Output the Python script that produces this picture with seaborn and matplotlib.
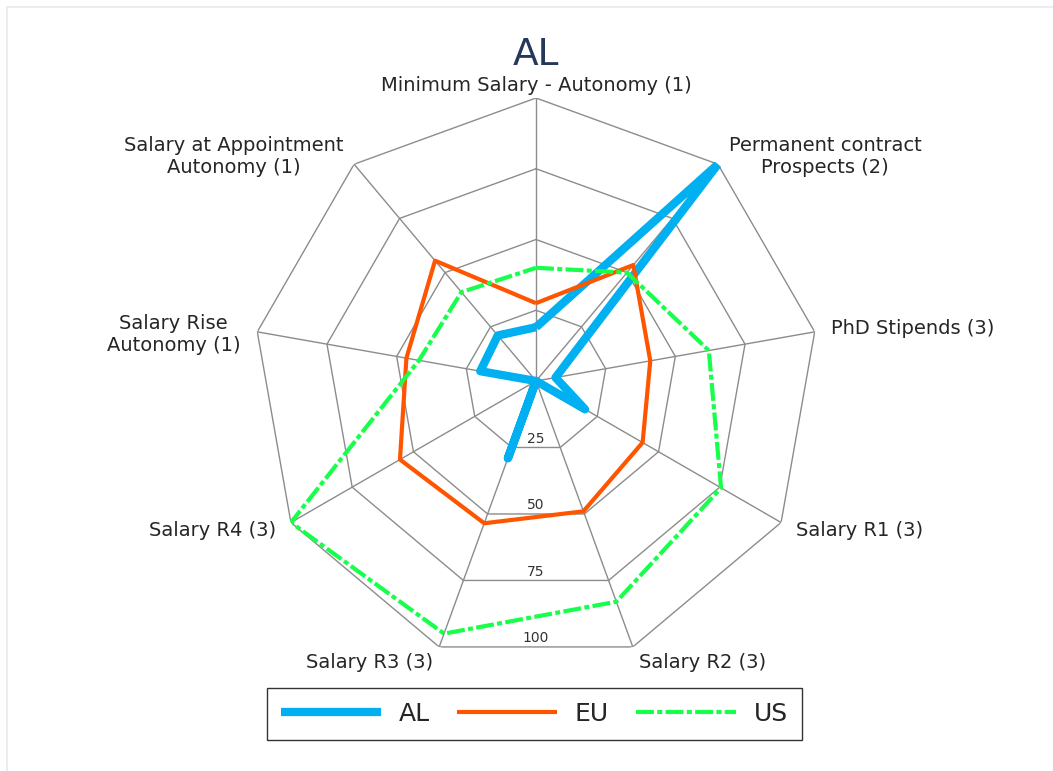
import numpy as np
import matplotlib
matplotlib.use("Agg")
import matplotlib.pyplot as plt
from matplotlib.patches import Rectangle
import seaborn as sns

# axes of the radar, clockwise from the top
categories = [
    "Minimum Salary - Autonomy (1)",
    "Permanent contract\nProspects (2)",
    "PhD Stipends (3)",
    "Salary R1 (3)",
    "Salary R2 (3)",
    "Salary R3 (3)",
    "Salary R4 (3)",
    "Salary Rise\nAutonomy (1)",
    "Salary at Appointment\nAutonomy (1)",
]
al_values = [19, 100, 7, 20, 0, 29, 0, 20, 21]
eu_values = [27.5, 53.5, 41, 43.5, 49, 53.5, 55.5, 46.5, 55.5]
us_values = [40, 50, 62, 75.5, 83, 95, 100, 42, 41]
ring_levels = [25, 50, 75, 100]
series_names = ["AL", "EU", "US"]

sns.set_theme(style="white")
plt.rcParams["font.family"] = ["DejaVu Sans"]

W, H = 1053, 771
fig = plt.figure(figsize=(W / 100, H / 100), dpi=100)
fig.patch.set_facecolor("white")

# polar axes: centre at (536, 381) px, radius 283 px
cx, cy, rad = 536, 381, 283
ax = fig.add_axes([(cx - rad) / W, (H - cy - rad) / H, 2 * rad / W, 2 * rad / H],
                  projection="polar")
ax.set_theta_offset(np.pi / 2)
ax.set_theta_direction(-1)
ax.grid(False)
ax.spines["polar"].set_visible(False)
ax.set_facecolor("none")

n = len(categories)
angles = np.linspace(0, 2 * np.pi, n, endpoint=False)
closed = np.append(angles, angles[0])

# polygon grid + spokes
grid_col = "#8c8c8c"
for lv in ring_levels:
    ax.plot(closed, [lv] * (n + 1), color=grid_col, lw=1, zorder=1)
for a in angles:
    ax.plot([a, a], [0, ring_levels[-1]], color=grid_col, lw=1, zorder=1)

styles = {
    "AL": dict(color="#00B0F0", lw=6, linestyle="-"),
    "EU": dict(color="#FF5500", lw=3, linestyle="-"),
    "US": dict(color="#17FF4A", lw=3, linestyle=(0, (4.3, 0.8, 1.2, 0.8))),
}
for name, vals in zip(series_names, [al_values, eu_values, us_values]):
    v = np.append(vals, vals[0])
    sns.lineplot(x=closed, y=v, sort=False, estimator=None, ax=ax,
                 label=name, zorder=3, solid_capstyle="butt", **styles[name])

ax.set_ylim(0, 100)
ax.set_xticks([])
ax.set_yticks([])
ax.set_xlabel("")
ax.set_ylabel("")

# category labels
for a, lab in zip(angles, categories):
    s = np.sin(a)
    if abs(s) < 0.1:
        ax.text(a, 101, lab, ha="center", va="bottom", fontsize=14,
                color="#262626", multialignment="center")
    else:
        dy = -4 if "\n" in lab else 0
        ax.annotate(lab, xy=(a, 106), xytext=(0, dy), textcoords="offset points",
                    ha="left" if s > 0 else "right", va="center",
                    fontsize=14, color="#262626", multialignment="center",
                    linespacing=1.2, annotation_clip=False)

# ring value labels along the bottom
for lv in ring_levels:
    ax.text(np.pi, lv * np.cos(np.pi / n) - 3, str(lv), ha="center",
            va="center", fontsize=10, color="#333333")

fig.text(cx / W, 1 - 55 / H, "AL", ha="center", va="center",
         fontsize=27, color="#263859")

handles, labels = ax.get_legend_handles_labels()
ax.get_legend().remove()
leg = fig.legend(handles, labels, loc="center", ncol=3,
                 bbox_to_anchor=(534.5 / W, 1 - 714 / H),
                 fontsize=18, frameon=True, fancybox=False,
                 handlelength=4, handletextpad=0.7, columnspacing=1.1,
                 borderpad=0.55)
leg.get_frame().set_edgecolor("black")
leg.get_frame().set_linewidth(1)

# faint outer frame seen at top-left
fig.add_artist(Rectangle((7 / W, -0.1), 1.2, (H - 7) / H + 0.1,
                         transform=fig.transFigure, fill=False,
                         edgecolor="#e8eef2", lw=1.5))

fig.savefig("out.png", dpi=100, facecolor="white")
